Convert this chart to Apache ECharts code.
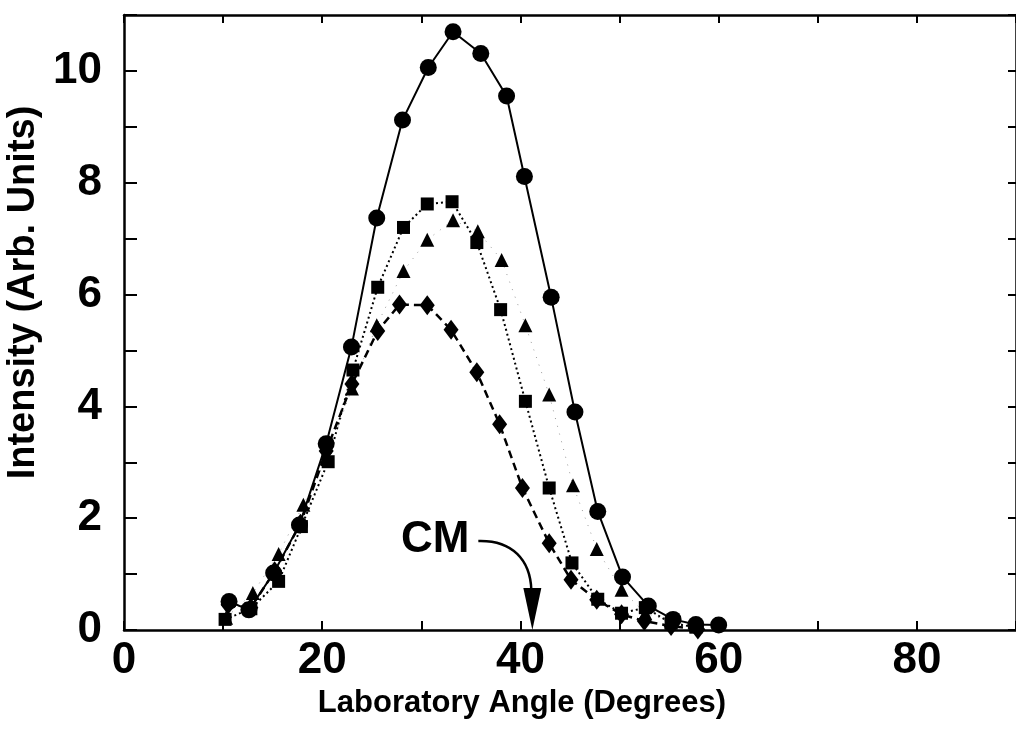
<!DOCTYPE html>
<html>
<head>
<meta charset="utf-8">
<script src="https://cdn.jsdelivr.net/npm/echarts@6/dist/echarts.min.js"></script>
<style>
  html, body { margin: 0; padding: 0; background: #fff; }
  #chart { width: 1016px; height: 747px; }
</style>
</head>
<body>
<div id="chart"></div>
<script>
// solid line, circles
const circleAngles = [10.6, 12.6, 15.1, 17.7, 20.4, 22.95, 25.5, 28.1, 30.7, 33.2, 36.0, 38.6, 40.4, 43.1, 45.5, 47.8, 50.3, 52.9, 55.4, 57.7, 60.0]
const circleValues = [0.51, 0.36, 1.02, 1.88, 3.33, 5.06, 7.37, 9.12, 10.06, 10.70, 10.31, 9.55, 8.11, 5.95, 3.90, 2.12, 0.95, 0.43, 0.19, 0.10, 0.09]

// dotted line, squares
const squareAngles = [10.2, 12.8, 15.6, 17.9, 20.6, 23.1, 25.6, 28.2, 30.6, 33.1, 35.6, 38.0, 40.5, 42.9, 45.2, 47.8, 50.2, 52.6, 55.2, 57.7]
const squareValues = [0.19, 0.38, 0.87, 1.85, 3.01, 4.65, 6.13, 7.20, 7.62, 7.66, 6.93, 5.73, 4.09, 2.54, 1.20, 0.55, 0.30, 0.40, 0.12, 0.05]

// faint dotted line, triangles
const triangleAngles = [10.3, 13.0, 15.6, 18.1, 20.5, 23.0, 25.5, 28.2, 30.6, 33.2, 35.7, 38.1, 40.5, 42.9, 45.3, 47.7, 50.2, 52.6, 55.2, 57.7]
const triangleValues = [0.22, 0.66, 1.36, 2.24, 3.10, 4.32, 5.45, 6.42, 6.98, 7.33, 7.13, 6.62, 5.45, 4.21, 2.59, 1.45, 0.72, 0.30, 0.15, 0.08]

// dashed line, diamonds
const diamondAngles = [10.5, 12.8, 15.2, 17.8, 20.4, 23.0, 25.6, 27.8, 30.6, 33.0, 35.6, 37.9, 40.2, 42.9, 45.1, 47.7, 50.2, 52.5, 55.2, 57.9]
const diamondValues = [0.45, 0.40, 1.05, 1.90, 3.20, 4.40, 5.35, 5.82, 5.81, 5.37, 4.61, 3.68, 2.54, 1.55, 0.90, 0.54, 0.28, 0.16, 0.07, 0.01]

const xLabelEvery = 20
const yLabelEvery = 2
const cmAngle = 41.2

const font = '"Liberation Sans", Arial, sans-serif'

function pairs(xs, ys) {
  return xs.map((x, i) => [x, ys[i]])
}

const chart = echarts.init(document.getElementById('chart'))

const axisLine = { show: true, onZero: false, lineStyle: { color: '#000', width: 2.5 } }

const option = {
  animation: false,
  grid: { left: 124, right: 0, top: 15, bottom: 117, outerBoundsMode: 'none', containLabel: false },
  xAxis: [
    {
      type: 'value', min: 0, max: 90, interval: 10,
      name: 'Laboratory Angle (Degrees)',
      nameLocation: 'middle', nameGap: 42,
      nameTextStyle: {
        fontFamily: font, fontWeight: 'bold', fontSize: 31, color: '#000',
        padding: [0, 96, 0, 0]
      },
      axisLine,
      axisTick: { inside: true, length: 9, lineStyle: { color: '#000', width: 2 } },
      axisLabel: {
        margin: 9, fontFamily: font, fontWeight: 'bold', fontSize: 44, color: '#000',
        formatter: v => (v % xLabelEvery === 0 ? String(v) : '')
      },
      splitLine: { show: false }
    },
    {
      type: 'value', position: 'top', min: 0, max: 90, interval: 10,
      axisLine,
      axisTick: { inside: true, length: 8, lineStyle: { color: '#000', width: 2 } },
      axisLabel: { show: false },
      splitLine: { show: false }
    }
  ],
  yAxis: [
    {
      type: 'value', min: 0, max: 11, interval: 1,
      name: 'Intensity (Arb. Units)',
      nameLocation: 'middle', nameGap: 72,
      nameTextStyle: {
        fontFamily: font, fontWeight: 'bold', fontSize: 38, color: '#000',
        padding: [0, 0, 0, 60]
      },
      axisLine,
      axisTick: { inside: true, length: 13, lineStyle: { color: '#000', width: 2 } },
      axisLabel: {
        margin: 22, fontFamily: font, fontWeight: 'bold', fontSize: 44, color: '#000',
        formatter: v => (v % yLabelEvery === 0 ? String(v) : '')
      },
      splitLine: { show: false }
    },
    {
      type: 'value', position: 'right', min: 0, max: 11, interval: 1,
      axisLine,
      axisTick: { inside: true, length: 8, lineStyle: { color: '#000', width: 2 } },
      axisLabel: { show: false },
      splitLine: { show: false }
    }
  ],
  series: [
    {
      type: 'line', name: 'triangles',
      data: pairs(triangleAngles, triangleValues),
      symbol: 'triangle', symbolSize: 14,
      itemStyle: { color: '#000' },
      lineStyle: { color: '#999', width: 1, type: [1, 7] },
      z: 2
    },
    {
      type: 'line', name: 'squares',
      data: pairs(squareAngles, squareValues),
      symbol: 'rect', symbolSize: 13,
      itemStyle: { color: '#000' },
      lineStyle: { color: '#000', width: 2, type: [2, 3] },
      z: 3
    },
    {
      type: 'line', name: 'diamonds',
      data: pairs(diamondAngles, diamondValues),
      symbol: 'diamond', symbolSize: [15, 20],
      itemStyle: { color: '#000' },
      lineStyle: { color: '#000', width: 2.5, type: [8, 5] },
      z: 4
    },
    {
      type: 'line', name: 'circles',
      data: pairs(circleAngles, circleValues),
      symbol: 'circle', symbolSize: 17,
      itemStyle: { color: '#000' },
      lineStyle: { color: '#000', width: 2 },
      z: 5
    }
  ]
}

chart.setOption(option)

// "CM" annotation anchored at the centre-of-mass angle on the x axis
const tip = chart.convertToPixel({ xAxisIndex: 0, yAxisIndex: 0 }, [cmAngle, 0])
chart.setOption({
  graphic: [
    {
      type: 'text', x: tip[0] - 63, y: tip[1] - 90,
      style: {
        text: 'CM', fontFamily: font, fontWeight: 'bold', fontSize: 44,
        fill: '#000', align: 'right', verticalAlign: 'middle'
      }
    },
    {
      type: 'bezierCurve',
      shape: {
        x1: tip[0] - 54, y1: tip[1] - 89,
        cpx1: tip[0] - 20, cpy1: tip[1] - 90,
        cpx2: tip[0] - 2, cpy2: tip[1] - 70,
        x2: tip[0] - 1, y2: tip[1] - 40
      },
      style: { stroke: '#000', lineWidth: 2.5, fill: null }
    },
    {
      type: 'polygon',
      shape: { points: [[tip[0] - 9, tip[1] - 42], [tip[0] + 9, tip[1] - 42], [tip[0], tip[1]]] },
      style: { fill: '#000' }
    }
  ]
})
</script>
</body>
</html>
